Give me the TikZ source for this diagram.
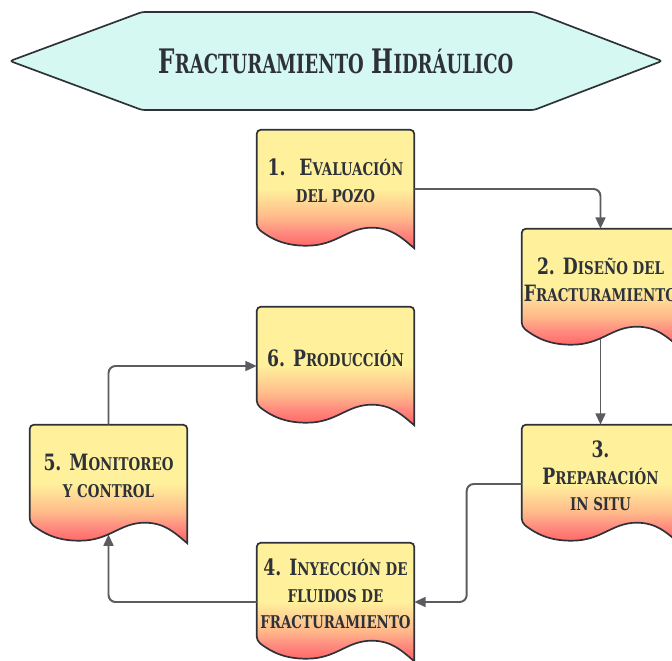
\documentclass[tikz,border=0pt]{standalone}
\usepackage{fontspec}
\usepackage{tikz}
\usetikzlibrary{arrows.meta,calc,positioning}
\newfontfamily\headfont{DejaVu Serif Condensed}[FakeStretch=0.85]
\newfontfamily\titlefont{DejaVu Serif Condensed}[FakeStretch=0.76]
\definecolor{inkgray}{HTML}{2E3238}
\definecolor{linegray}{HTML}{5A5C60}
\definecolor{titlecyan}{HTML}{D5F8F2}
\definecolor{docyellow}{HTML}{FFF09C}
\definecolor{docpeach}{HTML}{FFB98A}
\definecolor{docpink}{HTML}{FF8C80}
\definecolor{docred}{HTML}{FF6262}
\pgfdeclareverticalshading{docfill}{100bp}{color(0bp)=(docred); color(25bp)=(docred); color(32bp)=(docpink); color(38bp)=(docpeach); color(50bp)=(docyellow); color(100bp)=(docyellow)}
\makeatletter
\newcommand\sml[1]{{\fontsize{\fpeval{0.78*\f@size}}{0}\selectfont\MakeUppercase{#1}}}
\makeatother
% document box: empty frame node, wavy shape, text node
\newcommand\docnode[3]{%
  \node[docbox] (#1) at (#2) {};
  \path[docshape] ($(#1.north west)+(0,98)$)
    .. controls ($(#1.north west)+(18,112)$) and ($(#1.north west)+(32,116)$) .. ($(#1.north west)+(50,116)$)
    .. controls ($(#1.north west)+(80,116)$) and ($(#1.north west)+(90,98)$) .. ($(#1.north west)+(115,98)$)
    .. controls ($(#1.north west)+(135,98)$) and ($(#1.north west)+(145,108)$) .. (#1.south east)
    [rounded corners=3pt] -- (#1.north east) -- (#1.north west) -- cycle;
  \node[doctext] (#1t) at ($(#1.center)+(0,-8)$) {#3};
}

\begin{document}
\begin{tikzpicture}[x=0.025cm,y=-0.025cm,
  docbox/.style={minimum width=3.925cm,minimum height=2.95cm,inner sep=0pt},
  docshape/.style={draw=inkgray,line width=1.2pt,shading=docfill},
  doctext/.style={align=center,inner sep=0pt,text=inkgray,font={\headfont\bfseries\fontsize{16pt}{19pt}\selectfont}},
  titletext/.style={inner sep=0pt,text=inkgray,font={\titlefont\bfseries\fontsize{24pt}{28pt}\selectfont}},
  arr/.style={draw=linegray,line width=1.4pt,rounded corners=5pt,-{Triangle[length=8pt,width=7pt]}}]
  \clip (0,0) rectangle (672,660);

  \path[draw=inkgray,line width=1.2pt,fill=titlecyan,rounded corners=2pt]
    (10,61) -- (142,12) -- (534,12) -- (662,61) -- (534,110) -- (142,110) -- cycle;
  \node[titletext] (title) at (336,61) {F\sml{racturamiento} H\sml{idráulico}};

  \docnode{d1}{335.5,189}{1.~ E\sml{valuación}\\\sml{del pozo}}
  \docnode{d2}{600.5,288}{2. D\sml{iseño del}\\F\sml{racturamiento}}
  \docnode{d3}{600.5,484}{3.\\P\sml{reparación}\\\sml{in situ}}
  \docnode{d4}{335.5,602}{4. I\sml{nyección de}\\\sml{fluidos de}\\\sml{fracturamiento}}
  \docnode{d5}{108.5,484}{5. M\sml{onitoreo}\\\sml{y control}}
  \docnode{d6}{335.5,366}{6. P\sml{roducción}}

  \draw[arr] (d1.east) -| (d2.north);
  \draw[arr,shorten <=-0.22cm] (d2.south) -- (d3.north);
  \draw[arr] (d3.west) -- ++(-55,0) |- (d4.east);
  \draw[arr,shorten >=-0.22cm] (d4.west) -| (d5.south);
  \draw[arr] (d5.north) |- (d6.west);
\end{tikzpicture}
\end{document}
